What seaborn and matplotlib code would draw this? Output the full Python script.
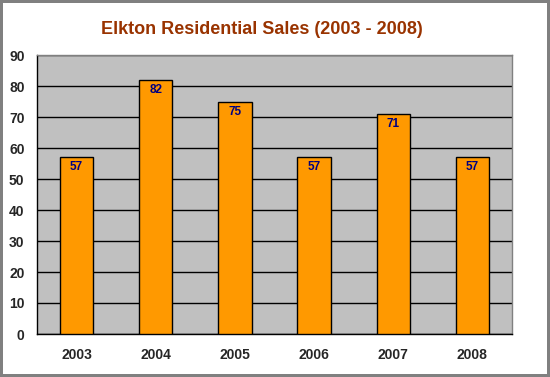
import matplotlib
matplotlib.use("Agg")
import matplotlib.pyplot as plt
import seaborn as sns
import pandas as pd
from matplotlib.ticker import FixedLocator

# =========================
# DATA
# =========================

years = ["2003", "2004", "2005", "2006", "2007", "2008"]
sales = [57, 82, 75, 57, 71, 57]

df = pd.DataFrame({"Year": years, "Sales": sales})

# =========================
# STYLE
# =========================

sns.set_style("white")
plt.rcParams["font.family"] = ["Liberation Sans", "DejaVu Sans"]

fig = plt.figure(figsize=(5.5, 3.77), dpi=100)
fig.patch.set_facecolor("white")
fig.patch.set_edgecolor("#808080")
fig.patch.set_linewidth(4)

ax = fig.add_axes([37 / 550, 1 - 334 / 377, 475 / 550, 279 / 377])
ax.set_facecolor("#C0C0C0")

sns.barplot(
    data=df,
    x="Year",
    y="Sales",
    color="#FF9900",
    edgecolor="black",
    linewidth=1,
    width=0.42,
    saturation=1,
    ax=ax,
    zorder=3
)

# value labels inside top of bars
for i, v in enumerate(sales):
    ax.annotate(
        str(v), (i, v), xytext=(0, -3), textcoords="offset points",
        ha="center", va="top", color="#000080",
        fontsize=8.5, fontweight="bold", zorder=4
    )

ax.set_ylim(0, 90)
ax.set_xlim(-0.5, len(years) - 0.5)
ax.set_yticks(range(0, 91, 10))
ax.yaxis.grid(True, color="black", linewidth=1)
ax.set_axisbelow(True)

# x ticks at category boundaries, labels centred
ax.xaxis.set_major_locator(FixedLocator([i - 0.5 for i in range(len(years) + 1)]))
ax.xaxis.set_minor_locator(FixedLocator(list(range(len(years)))))
ax.set_xticklabels([], minor=False)
ax.set_xticklabels(years, minor=True)
ax.tick_params(axis="x", which="major", direction="out", length=4, color="black", width=1)
ax.tick_params(axis="x", which="minor", length=0, pad=10, labelsize=10)
ax.tick_params(axis="y", direction="out", length=4, color="black", width=1, labelsize=10, pad=5)
for lbl in ax.get_xticklabels(minor=True) + ax.get_yticklabels():
    lbl.set_fontweight("bold")

ax.set_xlabel("")
ax.set_ylabel("")

for side in ["left", "bottom"]:
    ax.spines[side].set_color("black")
    ax.spines[side].set_linewidth(1)
for side in ["top", "right"]:
    ax.spines[side].set_color("#808080")
    ax.spines[side].set_linewidth(1)

fig.text(262 / 550, 1 - 29 / 377, "Elkton Residential Sales (2003 - 2008)",
         ha="center", va="center", color="#993300",
         fontsize=13, fontweight="bold")

fig.savefig("out.png", dpi=100, facecolor=fig.get_facecolor(), edgecolor=fig.get_edgecolor())
